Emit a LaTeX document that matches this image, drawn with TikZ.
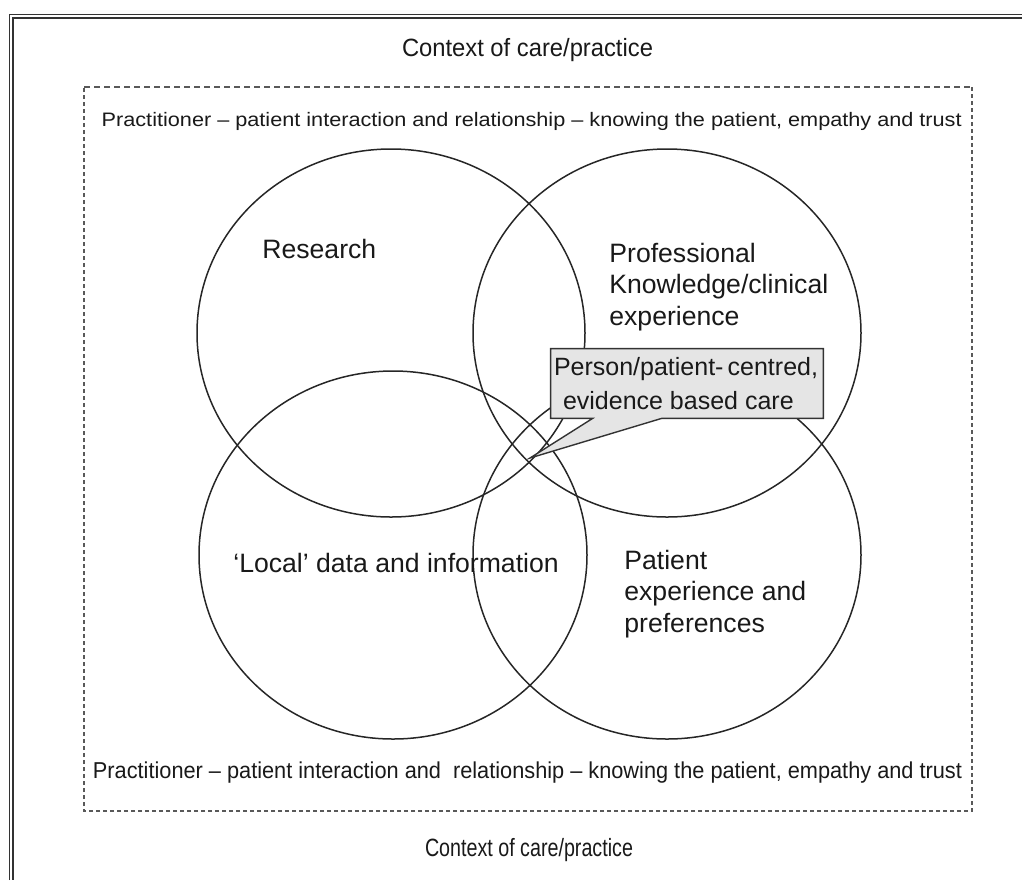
\documentclass[tikz,border=0pt]{standalone}
\usepackage{fontspec}
\setmainfont{Liberation Sans}
\usepackage{graphicx}
\usetikzlibrary{positioning, calc}

% squeeze a line of text to a given width, keeping its height
\newcommand{\fitto}[2]{\resizebox{#1}{\height}{#2}}

\tikzset{
  venn/.style={draw=black!85, line width=0.75pt},
  lbl/.style={font=\fontsize{13.3}{15.75}\selectfont, align=left, inner sep=0pt, anchor=west, text=black!90},
  frametext/.style={inner sep=0pt, text=black!90},
  callbox/.style={minimum width=136pt, minimum height=34.5pt, inner sep=0pt},
  callfill/.style={draw=black!80, line width=0.7pt, fill=black!10},
  calltext/.style={font=\fontsize{12.5}{16.8}\selectfont, align=left, inner sep=0pt, anchor=west, text=black!90},
  dashframe/.style={draw=black!65, line width=0.6pt}
}

\begin{document}
\begin{tikzpicture}[x=0.5pt, y=-0.5pt]
  \useasboundingbox (0,0) rectangle (1022,880);
  % outer double frame (cut at right and bottom)
  \draw[black!80, line width=0.8pt, double=white, double distance=0.9pt] (11,880) -- (11,16) -- (1022,16);
  % context of care
  \node[frametext, font=\fontsize{12.5}{15}\selectfont] (ctxtop) at (527.5,50) {\fitto{125.5pt}{Context of care/practice}};
  \node[frametext, font=\fontsize{12.5}{15}\selectfont] (ctxbot) at (529,850) {\fitto{104pt}{Context of care/practice}};
  % dashed box
  \draw[dashframe, dash pattern=on 3pt off 2pt] (84,87) -- (972,87);
  \draw[dashframe, dash pattern=on 2pt off 1.5pt] (972,87) -- (972,811) -- (84,811) -- (84,87);
  \node[frametext, font=\fontsize{9.75}{12}\selectfont] (reltop) at (531.7,121)
    {\fitto{430pt}{Practitioner -- patient interaction and relationship -- knowing the patient, empathy and trust}};
  \node[frametext, font=\fontsize{11.5}{14}\selectfont] (relbot) at (527.5,773)
    {\fitto{434.5pt}{Practitioner -- patient interaction and\ \ relationship -- knowing the patient, empathy and trust}};
  % four circles
  \coordinate (research) at (391,333);
  \coordinate (profknow) at (667,333);
  \coordinate (localdata) at (393,555);
  \coordinate (patient) at (667,555);
  \foreach \c in {research, profknow, localdata, patient}
    \draw[venn] (\c) ellipse [x radius=194, y radius=184];
  % circle labels
  \node[lbl] (researchlbl) at (262,249) {Research};
  \node[lbl] (proflbl) at (609,287) {Professional\\ Knowledge/clinical\\experience};
  \node[lbl] (locallbl) at (233,563) {`Local' data and information};
  \node[lbl] (patientlbl) at (624,594) {Patient\\experience and\\preferences};
  % callout
  \node[callbox] (callout) at (687,383.5) {};
  \coordinate (tip) at (530,458);
  \draw[callfill] (callout.north west) -- (callout.north east) -- (callout.south east)
    -- ($(callout.south west)+(111,0)$) -- (tip) -- ($(callout.south west)+(42,0)$)
    -- (callout.south west) -- cycle;
  \node[calltext] (callouttext) at ([xshift=1.5pt]callout.west)
    {Person/patient-\,centred,\\\hspace{4.5pt}evidence based care};
\end{tikzpicture}
\end{document}
